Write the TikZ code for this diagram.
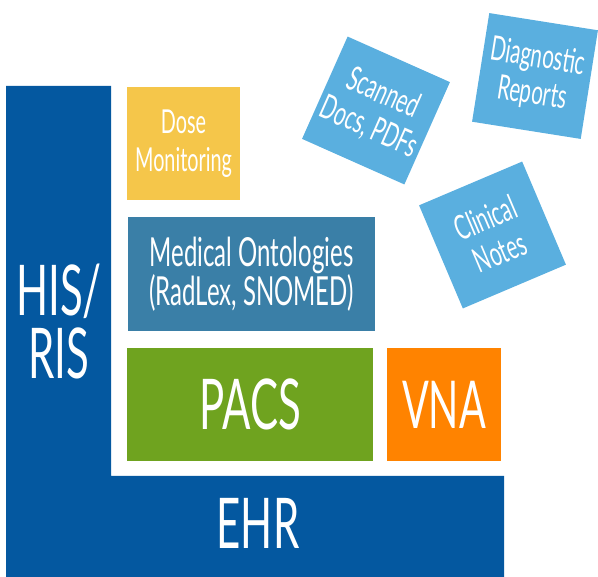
\documentclass[tikz,border=0pt]{standalone}
\usepackage{fontspec}
\setmainfont{Lato}[FakeStretch=0.6]
\definecolor{ehrblue}{HTML}{0458A0}
\definecolor{doseyellow}{HTML}{F5C64A}
\definecolor{ontoblue}{HTML}{3A7FA7}
\definecolor{pacsgreen}{HTML}{6FA31F}
\definecolor{vnaorange}{HTML}{FF8300}
\definecolor{docblue}{HTML}{5AAFDF}
\begin{document}
\begin{tikzpicture}[x=1pt,y=-1pt,
    box/.style={inner sep=0pt, text=white, align=center},
    doc/.style={box, fill=docblue, minimum size=112pt,
      font=\fontsize{34}{37}\selectfont}]
        \useasboundingbox (0,0) rectangle (598,577);
        % HIS/RIS and EHR
        \fill[ehrblue](6,86) --(111,86) --(111,476) --(504,476) --(504,577) --(6,577) --cycle;
        \node[box, font=\fontsize{70}{63}\selectfont] (his) at (59,322) {HIS/\\RIS};
        \node[box, font=\fontsize{70}{70}\selectfont] (ehr) at (258,523) {EHR};
        % inner boxes
        \node[box, fill=doseyellow, minimum width=113pt, minimum height=113pt,
          font=\fontsize{33}{38}\selectfont] (dose) at (183.5,143.5) {Dose\\Monitoring};
        \node[box, fill=ontoblue, minimum width=247pt, minimum height=114pt,
          font=\fontsize{40}{38}\selectfont] (onto) at (251.5,274) {Medical Ontologies\\(RadLex, SNOMED)};
        \node[box, fill=pacsgreen, minimum width=246pt, minimum height=113pt,
          font=\fontsize{70}{70}\selectfont] (pacs) at (250,404.5) {PACS};
        \node[box, fill=vnaorange, minimum width=114pt, minimum height=113pt,
          font=\fontsize{66}{66}\selectfont] (vna) at (444,404.5) {VNA};
        % documents
        \node[doc, rotate=-24] (scan) at (376,110.5) {Scanned\\Docs, PDFs};
        \node[doc, rotate=-9, minimum size=110pt] (diag) at (535,76) {Diagnostic\\Reports};
        \node[doc, rotate=23] (clin) at (492.5,235) {Clinical\\Notes};
    \end{tikzpicture}
\end{document}
